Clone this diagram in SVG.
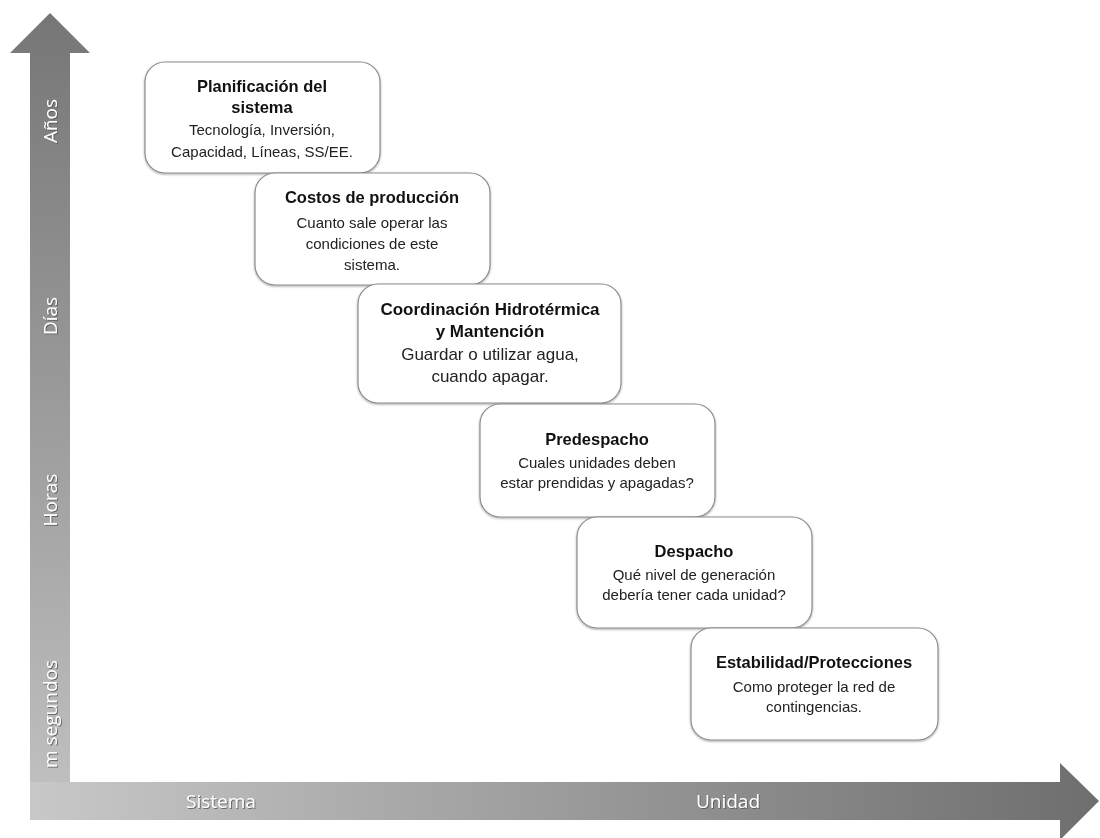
<svg xmlns="http://www.w3.org/2000/svg" width="1100" height="838" viewBox="0 0 1100 838">
<style>
.box{fill:#fff;stroke:#8c8c8c;stroke-width:1.2}
.t{font-family:"Liberation Sans",Arial,sans-serif;font-size:16.5px;font-weight:bold;fill:#111;text-anchor:middle}
.b{font-family:"Liberation Sans",Arial,sans-serif;font-size:15px;fill:#222;text-anchor:middle}
.big{font-size:17px}
.ax{font-family:"Open Sans","Liberation Sans",sans-serif;font-size:19px;fill:#fff;text-anchor:middle}
</style>
<defs>
<linearGradient id="gv" x1="0" y1="0" x2="0" y2="1">
<stop offset="0" stop-color="#767676"/>
<stop offset="1" stop-color="#c2c2c2"/>
</linearGradient>
<linearGradient id="gh" x1="0" y1="0" x2="1" y2="0">
<stop offset="0" stop-color="#c8c8c8"/>
<stop offset="1" stop-color="#6e6e6e"/>
</linearGradient>
<filter id="sh" x="-10%" y="-10%" width="120%" height="130%">
<feDropShadow dx="0" dy="1" stdDeviation="1.2" flood-color="#000" flood-opacity="0.35"/>
</filter>
<filter id="ts" x="-20%" y="-20%" width="140%" height="140%">
<feDropShadow dx="1" dy="1" stdDeviation="0.6" flood-color="#555" flood-opacity="0.8"/>
</filter>
</defs>
<g id="axes">
<path d="M30,820 L30,53 L10,53 L50,13 L90,53 L70,53 L70,820 Z" fill="url(#gv)"/>
<path d="M30,782 L1060,782 L1060,763 L1099,801 L1060,840 L1060,820 L30,820 Z" fill="url(#gh)"/>
<g filter="url(#ts)">
<text class="ax" transform="translate(57,121) rotate(-90)">Años</text>
<text class="ax" transform="translate(57,316) rotate(-90)">Días</text>
<text class="ax" transform="translate(57,500) rotate(-90)">Horas</text>
<text class="ax" transform="translate(57,714) rotate(-90)">m segundos</text>
<text class="ax" x="221" y="808">Sistema</text>
<text class="ax" x="728" y="808">Unidad</text>
</g>
</g>
<g id="connectors"></g>
<g id="n1">
<rect class="box" x="145" y="62" width="235" height="111" rx="20" filter="url(#sh)"/>
<text class="t" x="262" y="92">Planificación del</text>
<text class="t" x="262" y="113">sistema</text>
<text class="b" x="262" y="135">Tecnología, Inversión,</text>
<text class="b" x="262" y="157">Capacidad, Líneas, SS/EE.</text>
</g>
<g id="n2">
<rect class="box" x="255" y="173" width="235" height="112" rx="20" filter="url(#sh)"/>
<text class="t" x="372" y="203">Costos de producción</text>
<text class="b" x="372" y="228">Cuanto sale operar las</text>
<text class="b" x="372" y="249">condiciones de este</text>
<text class="b" x="372" y="270">sistema.</text>
</g>
<g id="n3">
<rect class="box" x="358" y="284" width="263" height="119" rx="20" filter="url(#sh)"/>
<text class="t big" x="490" y="315">Coordinación Hidrotérmica</text>
<text class="t big" x="490" y="337">y Mantención</text>
<text class="b big" x="490" y="360">Guardar o utilizar agua,</text>
<text class="b big" x="490" y="382">cuando apagar.</text>
</g>
<g id="n4">
<rect class="box" x="480" y="404" width="235" height="113" rx="20" filter="url(#sh)"/>
<text class="t" x="597" y="445">Predespacho</text>
<text class="b" x="597" y="468">Cuales unidades deben</text>
<text class="b" x="597" y="488">estar prendidas y apagadas?</text>
</g>
<g id="n5">
<rect class="box" x="577" y="517" width="235" height="111" rx="20" filter="url(#sh)"/>
<text class="t" x="694" y="557">Despacho</text>
<text class="b" x="694" y="580">Qué nivel de generación</text>
<text class="b" x="694" y="600">debería tener cada unidad?</text>
</g>
<g id="n6">
<rect class="box" x="691" y="628" width="247" height="112" rx="20" filter="url(#sh)"/>
<text class="t" x="814" y="668">Estabilidad/Protecciones</text>
<text class="b" x="814" y="692">Como proteger la red de</text>
<text class="b" x="814" y="712">contingencias.</text>
</g>
</svg>
